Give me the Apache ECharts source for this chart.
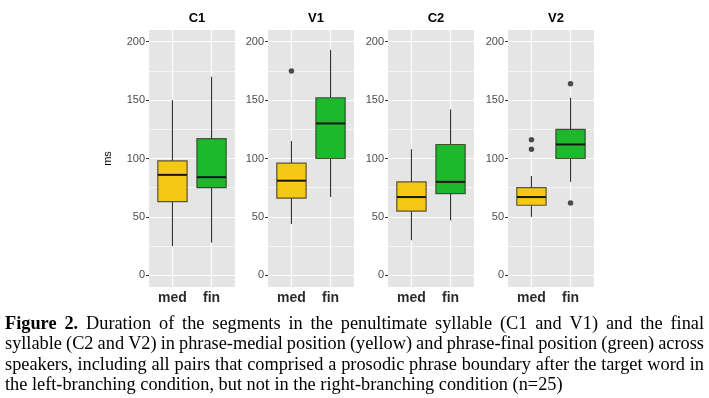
<!DOCTYPE html>
<html>
<head>
<meta charset="utf-8">
<script src="https://cdn.jsdelivr.net/npm/echarts@6/dist/echarts.min.js"></script>
<style>
  html, body { margin: 0; padding: 0; background: #fff; }
  #main { width: 709px; height: 398px; }
</style>
</head>
<body>
<div id="main"></div>
<script>
// facets and x categories
var panels = ['C1', 'V1', 'C2', 'V2'];
var positions = ['med', 'fin'];
var yTicks = [0, 50, 100, 150, 200];
var yMinor = [25, 75, 125, 175];

// box stats: [lower whisker, q1, median, q3, upper whisker], one row per position
var c1Stats = [[25, 63, 86, 98, 150], [28, 75, 84, 117, 170]];
var v1Stats = [[44, 66, 81, 96, 115], [67, 100, 130, 152, 193]];
var c2Stats = [[30, 55, 67, 80, 108], [47, 70, 80, 112, 142]];
var v2Stats = [[50, 60, 67, 75, 85], [80, 100, 112, 125, 152]];

// outliers: [position, ms]
var c1Outliers = [];
var v1Outliers = [['med', 175]];
var c2Outliers = [];
var v2Outliers = [['med', 108], ['med', 116], ['fin', 164], ['fin', 62]];

var fillColors = ['#F4C814', '#1DB82B'];

var captionLines = [
    'Figure 2. Duration of the segments in the penultimate syllable (C1 and V1) and the final',
    'syllable (C2 and V2) in phrase-medial position (yellow) and phrase-final position (green) across',
    'speakers, including all pairs that comprised a prosodic phrase boundary after the target word in',
    'the left-branching condition, but not in the right-branching condition (n=25)'
];

var allStats = [c1Stats, v1Stats, c2Stats, v2Stats];
var allOutliers = [c1Outliers, v1Outliers, c2Outliers, v2Outliers];

var gridLefts = [149, 268, 388, 508];
var gridWidth = 86;

var grids = [], xAxes = [], yAxes = [], series = [], titles = [];

panels.forEach(function (name, i) {
    grids.push({
        left: gridLefts[i], top: 30, width: gridWidth, height: 257,
        show: true, backgroundColor: '#E5E5E5', borderWidth: 0
    });
    titles.push({
        text: name,
        left: gridLefts[i] + gridWidth / 2,
        top: 7,
        textAlign: 'center',
        textStyle: { fontFamily: 'Liberation Sans', fontSize: 13, fontWeight: 'bold', color: '#000' }
    });
    xAxes.push({
        gridIndex: i,
        type: 'value',
        min: 0.4,
        max: 2.6,
        axisLine: { show: false },
        splitLine: { show: false },
        axisTick: { show: true, length: 3, customValues: [1, 2], lineStyle: { color: '#333', width: 1 } },
        axisLabel: {
            customValues: [1, 2],
            margin: 4,
            formatter: function (v) { return positions[Math.round(v) - 1]; },
            fontFamily: 'Liberation Sans', fontSize: 14, fontWeight: 'bold', color: '#2b2b2b'
        }
    });
    yAxes.push({
        gridIndex: i,
        type: 'value',
        min: -10,
        max: 210,
        name: i === 0 ? 'ms' : '',
        nameLocation: 'middle',
        nameGap: 36,
        nameTextStyle: { fontFamily: 'Liberation Sans', fontSize: 11, color: '#000' },
        axisLine: { show: false },
        splitLine: { show: false },
        axisTick: { show: true, length: 3, customValues: yTicks, lineStyle: { color: '#333', width: 1 } },
        axisLabel: {
            customValues: yTicks,
            margin: 4,
            fontFamily: 'Liberation Sans', fontSize: 11, color: '#4D4D4D'
        }
    });

    // panel grid lines (ggplot style, white), kept under the boxes
    var lines = [];
    yTicks.forEach(function (v) { lines.push({ yAxis: v, lineStyle: { width: 1.2 } }); });
    yMinor.forEach(function (v) { lines.push({ yAxis: v, lineStyle: { width: 0.6 } }); });
    positions.forEach(function (p, k) { lines.push({ xAxis: k + 1, lineStyle: { width: 1.2 } }); });
    series.push({
        type: 'line',
        xAxisIndex: i, yAxisIndex: i,
        data: [],
        z: 1,
        silent: true,
        markLine: {
            z: 1,
            silent: true,
            symbol: 'none',
            label: { show: false },
            lineStyle: { type: 'solid', color: '#fff' },
            animation: false,
            data: lines
        }
    });

    // boxes
    var boxData = allStats[i].map(function (s, k) {
        return [k + 1].concat(s);
    });
    series.push({
        type: 'custom',
        xAxisIndex: i, yAxisIndex: i,
        z: 3,
        encode: { x: 0, y: [1, 2, 3, 4, 5] },
        data: boxData,
        renderItem: function (params, api) {
            var x = api.value(0);
            var half = api.size([1, 0])[0] * 0.375;
            var lo = api.coord([x, api.value(1)]);
            var q1 = api.coord([x, api.value(2)]);
            var md = api.coord([x, api.value(3)]);
            var q3 = api.coord([x, api.value(4)]);
            var hi = api.coord([x, api.value(5)]);
            var cx = lo[0];
            return {
                type: 'group',
                children: [
                    {
                        type: 'line',
                        shape: { x1: cx, y1: hi[1], x2: cx, y2: q3[1] },
                        style: { stroke: '#333', lineWidth: 1.1 }
                    },
                    {
                        type: 'line',
                        shape: { x1: cx, y1: q1[1], x2: cx, y2: lo[1] },
                        style: { stroke: '#333', lineWidth: 1.1 }
                    },
                    {
                        type: 'rect',
                        shape: { x: cx - half, y: q3[1], width: half * 2, height: q1[1] - q3[1] },
                        style: { fill: fillColors[x - 1], stroke: 'rgba(40,40,30,0.75)', lineWidth: 1.2 }
                    },
                    {
                        type: 'line',
                        shape: { x1: cx - half, y1: md[1], x2: cx + half, y2: md[1] },
                        style: { stroke: '#151515', lineWidth: 2 }
                    }
                ]
            };
        }
    });

    // outlier dots
    series.push({
        type: 'scatter',
        xAxisIndex: i, yAxisIndex: i,
        z: 4,
        symbolSize: 5.5,
        itemStyle: { color: '#222' },
        data: allOutliers[i].map(function (o) {
            return [positions.indexOf(o[0]) + 1, o[1]];
        })
    });
});

// caption, justified like the source
var ctx = document.createElement('canvas').getContext('2d');
function textWidth(s, size, bold) {
    ctx.font = (bold ? 'bold ' : '') + size + 'px "Liberation Serif"';
    return ctx.measureText(s).width;
}
var capSize = 16 * 558 / textWidth(captionLines[3], 16, false);
var capLeft = 5, capRight = 704;
var capY = [324, 344.5, 365, 385.5];
var graphics = [];

captionLines.forEach(function (line, li) {
    var words = line.split(' ');
    var bolds = words.map(function (w, wi) { return li === 0 && wi < 2; });
    var widths = words.map(function (w, wi) { return textWidth(w, capSize, bolds[wi]); });
    var total = widths.reduce(function (a, b) { return a + b; }, 0);
    var gap = li < captionLines.length - 1
        ? (capRight - capLeft - total) / (words.length - 1)
        : textWidth(' ', capSize, false);
    var x = capLeft;
    words.forEach(function (w, wi) {
        graphics.push({
            type: 'text',
            x: x,
            y: capY[li],
            style: {
                text: w,
                font: (bolds[wi] ? 'bold ' : '') + capSize + 'px "Liberation Serif"',
                fill: '#000',
                textAlign: 'left',
                textVerticalAlign: 'middle'
            }
        });
        x += widths[wi] + gap;
    });
});

var chart = echarts.init(document.getElementById('main'));
chart.setOption({
    animation: false,
    backgroundColor: '#fff',
    title: titles,
    grid: grids,
    xAxis: xAxes,
    yAxis: yAxes,
    series: series,
    graphic: graphics
});
</script>
</body>
</html>
